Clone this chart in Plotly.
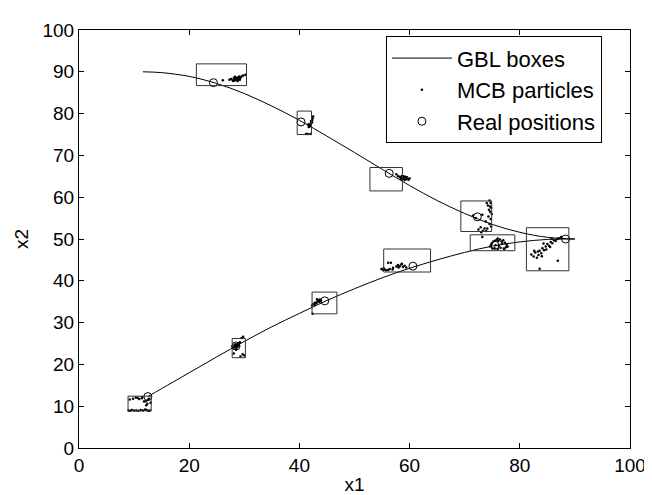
import plotly.graph_objects as go

# GBL curves (upper and lower trajectories)
upper_x = [11.6, 15, 20, 25, 30, 35, 40, 45, 50, 55, 60, 65, 70, 75, 80, 85, 90]
upper_y = [90.0, 89.8, 88.9, 87.2, 84.8, 81.8, 78.4, 74.6, 70.7, 66.7, 62.8, 59.2, 56.1, 53.5, 51.6, 50.4, 50.0]
lower_x = [12.5, 15, 20, 25, 30, 35, 40, 45, 50, 55, 60, 65, 70, 75, 80, 85, 90]
lower_y = [12.3, 14.2, 18.0, 21.8, 25.5, 29.0, 32.2, 35.3, 38.1, 40.7, 43.0, 45.0, 46.8, 48.3, 49.3, 49.9, 50.0]

# GBL boxes: x0, x1, y0, y1
box_x0 = [21.3, 39.6, 52.8, 69.3, 71.0, 55.3, 81.2, 42.3, 27.8, 8.9]
box_x1 = [30.4, 42.2, 58.7, 74.9, 79.1, 63.8, 88.9, 46.8, 30.2, 13.1]
box_y0 = [86.7, 75.0, 61.5, 51.8, 47.2, 42.1, 42.4, 32.1, 21.6, 8.9]
box_y1 = [91.9, 80.6, 67.1, 59.1, 51.0, 47.6, 52.7, 37.3, 26.2, 12.4]

# Real positions
real_x = [24.4, 40.3, 56.3, 72.3, 88.3, 12.5, 28.5, 44.6, 60.6, 75.5]
real_y = [87.4, 78.0, 65.7, 55.3, 50.0, 12.3, 24.4, 35.2, 43.5, 48.5]

# MCB particles
particle_x = [
    26.1, 27.3, 27.6, 27.9, 28.1, 28.2, 28.4, 28.5, 28.6, 28.7, 28.8, 28.9, 29.0, 29.1, 29.2, 29.3, 29.5, 29.8, 30.2, 28.0, 28.3, 28.9,
    41.2, 41.5, 41.8, 42.0, 42.2, 42.3, 42.4, 41.9, 42.1, 42.5, 41.7, 42.0, 42.3, 41.6,
    57.6, 57.9, 58.2, 58.4, 58.6, 58.8, 59.0, 59.2, 59.4, 59.6, 59.8, 60.0, 58.5, 59.1, 59.5, 58.9,
    74.5, 74.7, 74.2, 74.8, 74.4, 74.6, 74.9, 74.3, 74.7, 73.8, 74.5, 74.8, 74.1, 72.5, 72.9, 73.3, 73.6, 73.0, 73.9, 71.5, 72.0, 73.2, 74.6, 74.0,
    74.6, 74.9, 75.2, 75.5, 75.8, 76.1, 76.4, 76.7, 77.0, 77.3, 77.6, 77.8, 75.0, 75.4, 76.0, 76.5, 77.1, 77.5, 74.8, 76.2, 76.8, 75.6, 77.2, 76.0, 73.2,
    54.9, 55.2, 55.5, 55.8, 56.1, 56.4, 56.1, 56.6, 57.0, 57.6, 57.9, 58.2, 58.5, 58.8, 59.1, 59.4, 58.0, 58.6, 55.3, 56.9,
    82.1, 82.5, 82.8, 83.1, 83.4, 83.6, 83.9, 84.1, 84.4, 84.7, 85.0, 85.3, 85.6, 85.9, 86.2, 86.5, 86.8, 87.1, 87.5, 83.3, 84.0, 84.8, 85.5, 86.9, 83.6, 82.6, 84.3, 85.8,
    42.3, 42.6, 42.9, 43.1, 43.3, 43.5, 43.7, 43.9, 42.8, 43.2, 43.6, 42.4,
    27.8, 28.0, 28.2, 28.3, 28.4, 28.5, 28.6, 28.7, 28.8, 28.9, 29.0, 29.2, 29.5, 29.8, 30.0, 28.1, 28.5, 29.3, 29.7,
    9.0, 9.3, 9.6, 10.0, 10.4, 10.8, 11.2, 11.6, 12.0, 12.3, 12.6, 12.9, 9.2, 9.8, 10.3, 10.9, 11.5, 12.1, 12.4, 12.7, 11.8, 12.2, 12.5, 13.0, 10.6, 11.4,
]
particle_y = [
    88.0, 88.1, 88.3, 88.0, 88.5, 87.9, 88.2, 88.6, 88.0, 88.4, 87.8, 88.7, 88.3, 88.9, 88.1, 88.6, 88.9, 89.1, 89.3, 87.8, 88.8, 88.2,
    75.1, 75.1, 77.2, 77.6, 78.0, 78.4, 78.8, 77.0, 78.2, 79.3, 76.8, 75.1, 77.9, 77.4,
    65.5, 65.0, 64.9, 64.6, 65.1, 64.7, 64.4, 64.9, 64.3, 64.6, 64.2, 64.5, 64.3, 64.1, 64.8, 65.0,
    59.2, 58.6, 58.0, 57.5, 57.0, 56.5, 56.0, 55.4, 54.8, 54.2, 53.6, 53.0, 52.5, 52.3, 52.8, 52.0, 52.5, 51.6, 51.9, 55.6, 55.0, 55.8, 57.8, 58.6,
    48.2, 48.9, 49.4, 49.6, 49.8, 49.5, 49.9, 49.4, 49.7, 49.1, 48.6, 48.2, 47.7, 47.8, 47.6, 47.9, 47.7, 48.0, 48.6, 48.4, 48.9, 48.5, 47.6, 50.1, 50.5,
    42.8, 42.6, 42.7, 42.5, 42.6, 42.8, 44.3, 44.3, 43.1, 43.4, 43.8, 43.5, 43.9, 43.3, 43.6, 43.2, 43.2, 44.1, 43.0, 42.7,
    46.3, 45.8, 46.8, 45.5, 46.2, 47.2, 46.6, 47.8, 47.3, 48.2, 48.8, 48.4, 49.3, 49.0, 49.7, 49.5, 50.0, 50.2, 50.5, 47.0, 45.9, 47.5, 48.1, 44.8, 42.9, 47.2, 48.9, 50.1,
    34.1, 34.5, 34.8, 34.6, 35.1, 35.3, 35.5, 35.2, 34.2, 35.6, 34.9, 32.1,
    24.3, 23.9, 24.6, 24.1, 24.8, 24.4, 24.0, 24.7, 24.3, 25.0, 24.5, 25.3, 26.3, 26.6, 22.1, 22.6, 23.5, 21.9, 22.4,
    9.0, 8.9, 9.1, 9.0, 9.0, 8.9, 9.1, 9.0, 9.2, 9.1, 8.9, 9.0, 11.6, 11.8, 12.1, 11.7, 12.2, 11.2, 10.6, 11.8, 11.1, 10.2, 11.5, 10.8, 12.0, 11.9,
]

tick_vals = [0, 10, 20, 30, 40, 50, 60, 70, 80, 90, 100]
x_tick_vals = [0, 20, 40, 60, 80, 100]

FONT = "Liberation Sans, Arial, sans-serif"

fig = go.Figure()
fig.add_trace(go.Scatter(x=upper_x, y=upper_y, mode="lines", line=dict(color="black", width=1, shape="spline"),
                         name="GBL boxes"))
fig.add_trace(go.Scatter(x=lower_x, y=lower_y, mode="lines", line=dict(color="black", width=1, shape="spline"),
                         name="GBL boxes", showlegend=False))
fig.add_trace(go.Scatter(x=particle_x, y=particle_y, mode="markers",
                         marker=dict(color="black", size=2.5, symbol="circle"),
                         name="MCB particles"))
fig.add_trace(go.Scatter(x=real_x, y=real_y, mode="markers",
                         marker=dict(color="black", size=8, symbol="circle-open",
                                     line=dict(color="black", width=1)),
                         name="Real positions"))

for x0, x1, y0, y1 in zip(box_x0, box_x1, box_y0, box_y1):
    fig.add_shape(type="rect", xref="x", yref="y", x0=x0, x1=x1, y0=y0, y1=y1,
                  line=dict(color="#333333", width=1), fillcolor="rgba(0,0,0,0)", layer="above")

axis_common = dict(showgrid=False, zeroline=False, showline=True, linecolor="black", linewidth=1,
                   mirror="ticks", ticks="inside", ticklen=5, tickcolor="black",
                   tickfont=dict(family=FONT, size=19, color="black"))

fig.update_layout(
    width=652, height=495,
    margin=dict(l=71, r=30, t=12, b=49),
    paper_bgcolor="white", plot_bgcolor="white",
    font=dict(family=FONT, size=19, color="black"),
    xaxis=dict(range=[0, 100], tickvals=x_tick_vals, title=dict(text="x1", font=dict(size=19), standoff=2),
               **axis_common),
    yaxis=dict(range=[0, 100], tickvals=tick_vals, title=dict(text="x2", font=dict(size=19), standoff=8),
               **axis_common),
    legend=dict(x=0.557, y=0.985, xanchor="left", yanchor="top", bgcolor="white",
                bordercolor="black", borderwidth=1, font=dict(family=FONT, size=22, color="black"),
                itemwidth=60, tracegroupgap=0),
    showlegend=True,
)

fig.write_html("out.html")
